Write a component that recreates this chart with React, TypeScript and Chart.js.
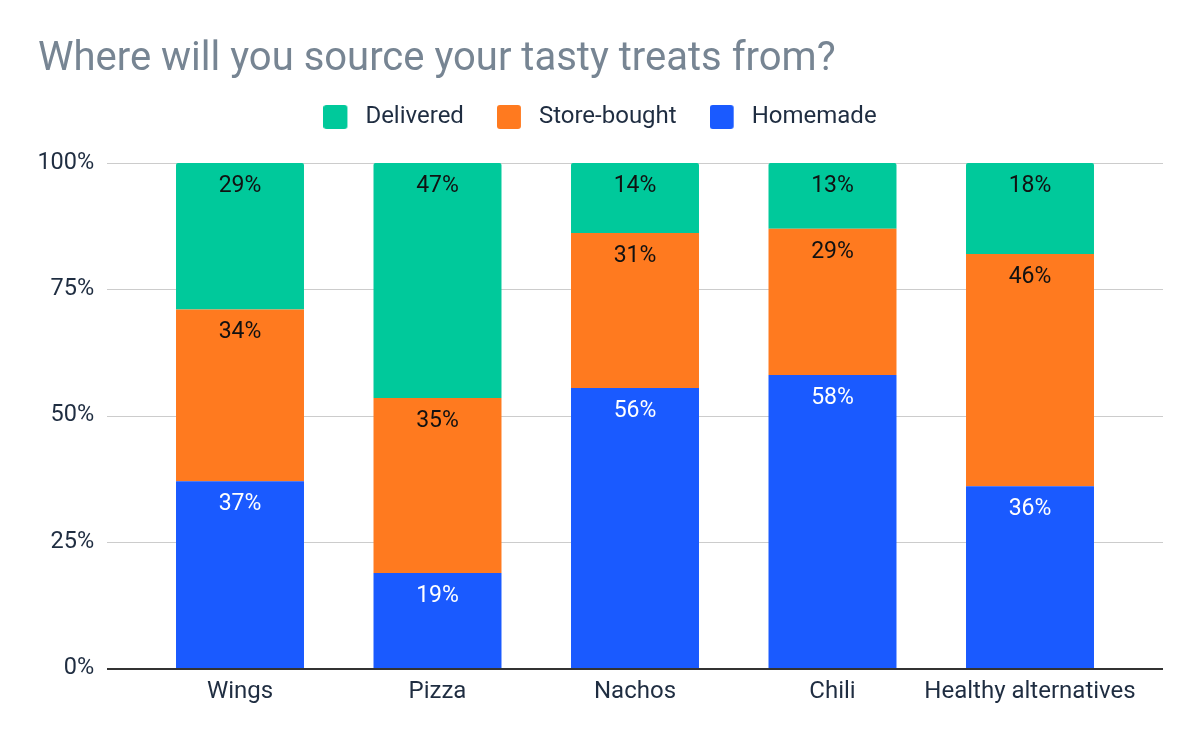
import React, { useEffect, useRef } from "react";
import { Chart, registerables } from "chart.js";

Chart.register(...registerables);

const chartTitle = "Where will you source your tasty treats from?";
const categories = ["Wings", "Pizza", "Nachos", "Chili", "Healthy alternatives"];
const seriesNames = ["Homemade", "Store-bought", "Delivered"];
const homemade = [37, 19, 56, 58, 36];
const storeBought = [34, 35, 31, 29, 46];
const delivered = [29, 47, 14, 13, 18];
const yTickValues = [0, 25, 50, 75, 100];

const seriesColors = ["#1A5AFF", "#FF7A1F", "#00C99B"];
const labelColors = ["#FFFFFF", "#111111", "#111111"];
const textColor = "#1F2D41";
const titleColor = "#778593";
const FONT = "Roboto";

function makeBox(color: string): HTMLCanvasElement {
  const c = document.createElement("canvas");
  c.width = 30;
  c.height = 24;
  const ctx = c.getContext("2d")!;
  ctx.fillStyle = color;
  ctx.beginPath();
  (ctx as any).roundRect(0, 0, 24, 24, 3);
  ctx.fill();
  return c;
}

const gridPlugin = {
  id: "extGrid",
  beforeDatasetsDraw(chart: any) {
    const { ctx, chartArea } = chart;
    const y = chart.scales.y;
    const ext = 34.25;
    ctx.save();
    ctx.strokeStyle = "#CCCCCC";
    ctx.lineWidth = 1;
    yTickValues.forEach((v) => {
      if (v === 0) return;
      const py = Math.round(y.getPixelForValue(v)) + 0.5;
      ctx.beginPath();
      ctx.moveTo(chartArea.left - ext, py);
      ctx.lineTo(chartArea.right + ext, py);
      ctx.stroke();
    });
    ctx.restore();
  },
  afterDatasetsDraw(chart: any) {
    const { ctx, chartArea } = chart;
    const y = chart.scales.y;
    const ext = 34.25;
    ctx.save();
    ctx.font = `23px ${FONT}`;
    ctx.textAlign = "center";
    ctx.textBaseline = "alphabetic";
    chart.data.datasets.forEach((ds: any, di: number) => {
      const meta = chart.getDatasetMeta(di);
      meta.data.forEach((el: any, i: number) => {
        const top = Math.min(el.y, el.base);
        ctx.fillStyle = labelColors[di];
        ctx.fillText(ds.rawValues[i] + "%", el.x, top + 29);
      });
    });
    const py = y.getPixelForValue(0) + 1;
    ctx.strokeStyle = "#333333";
    ctx.lineWidth = 2;
    ctx.beginPath();
    ctx.moveTo(chartArea.left - ext, py);
    ctx.lineTo(chartArea.right + ext, py);
    ctx.stroke();
    ctx.restore();
  },
};

export default function App() {
  const ref = useRef<HTMLCanvasElement>(null);

  useEffect(() => {
    document.body.style.margin = "0";
    const raw = [homemade, storeBought, delivered];
    const totals = categories.map((_, i) => raw.reduce((s, arr) => s + arr[i], 0));
    const boxes = seriesColors.map(makeBox);

    const datasets = raw.map((arr, di) => ({
      label: seriesNames[di],
      data: arr.map((v, i) => (v / totals[i]) * 100),
      rawValues: arr,
      backgroundColor: seriesColors[di],
      borderWidth: 0,
      borderRadius: di === 2 ? { topLeft: 2, topRight: 2, bottomLeft: 0, bottomRight: 0 } : 0,
      borderSkipped: false,
      categoryPercentage: 1,
      barPercentage: 0.648,
    }));

    const chart = new Chart(ref.current!, {
      type: "bar",
      data: { labels: categories, datasets: datasets as any },
      options: {
        animation: false,
        responsive: false,
        devicePixelRatio: 1,
        layout: { padding: { left: 38, right: 38, top: 0, bottom: 0 } },
        plugins: {
          title: {
            display: true,
            text: chartTitle,
            align: "start",
            color: titleColor,
            font: { family: FONT, size: 40, weight: "normal", lineHeight: 0.6 },
            padding: { top: 48, bottom: 0 },
          },
          subtitle: {
            display: true,
            text: " ",
            weight: 500,
            font: { family: FONT, size: 10, lineHeight: 1 },
            padding: { top: 14, bottom: 0 },
          } as any,
          legend: {
            display: true,
            position: "top",
            reverse: true,
            labels: {
              color: textColor,
              font: { family: FONT, size: 24 },
              padding: 33,
              usePointStyle: true,
              pointStyleWidth: 30,
              generateLabels(chart: any) {
                const items = Chart.defaults.plugins.legend.labels.generateLabels(chart);
                return items.map((it: any) => ({ ...it, pointStyle: boxes[it.datasetIndex] }));
              },
            },
          },
          tooltip: { enabled: false },
        },
        scales: {
          x: {
            stacked: true,
            grid: { display: false, drawTicks: false },
            border: { display: false },
            ticks: {
              color: textColor,
              font: { family: FONT, size: 24 },
              padding: 9.6,
              autoSkip: false,
              maxRotation: 0,
            },
            afterFit(s: any) {
              s.height = 74;
            },
          },
          y: {
            stacked: true,
            min: 0,
            max: 100,
            grid: { display: false, drawTicks: false },
            border: { display: false },
            ticks: {
              stepSize: 25,
              color: textColor,
              font: { family: FONT, size: 23.5 },
              padding: 47,
              callback: (v: any) => v + "%",
            },
            afterFit(s: any) {
              s.width = 103.25;
            },
          },
          ySpacer: {
            type: "linear",
            position: "right",
            display: true,
            grid: { display: false, drawTicks: false },
            border: { display: false },
            ticks: { display: false },
            afterFit(s: any) {
              s.width = 33.25;
            },
          },
        },
      } as any,
      plugins: [gridPlugin],
    });
    return () => chart.destroy();
  }, []);

  return (
    <div style={{ width: 1200, height: 742, background: "#fff" }}>
      <canvas ref={ref} width={1200} height={742} />
    </div>
  );
}
